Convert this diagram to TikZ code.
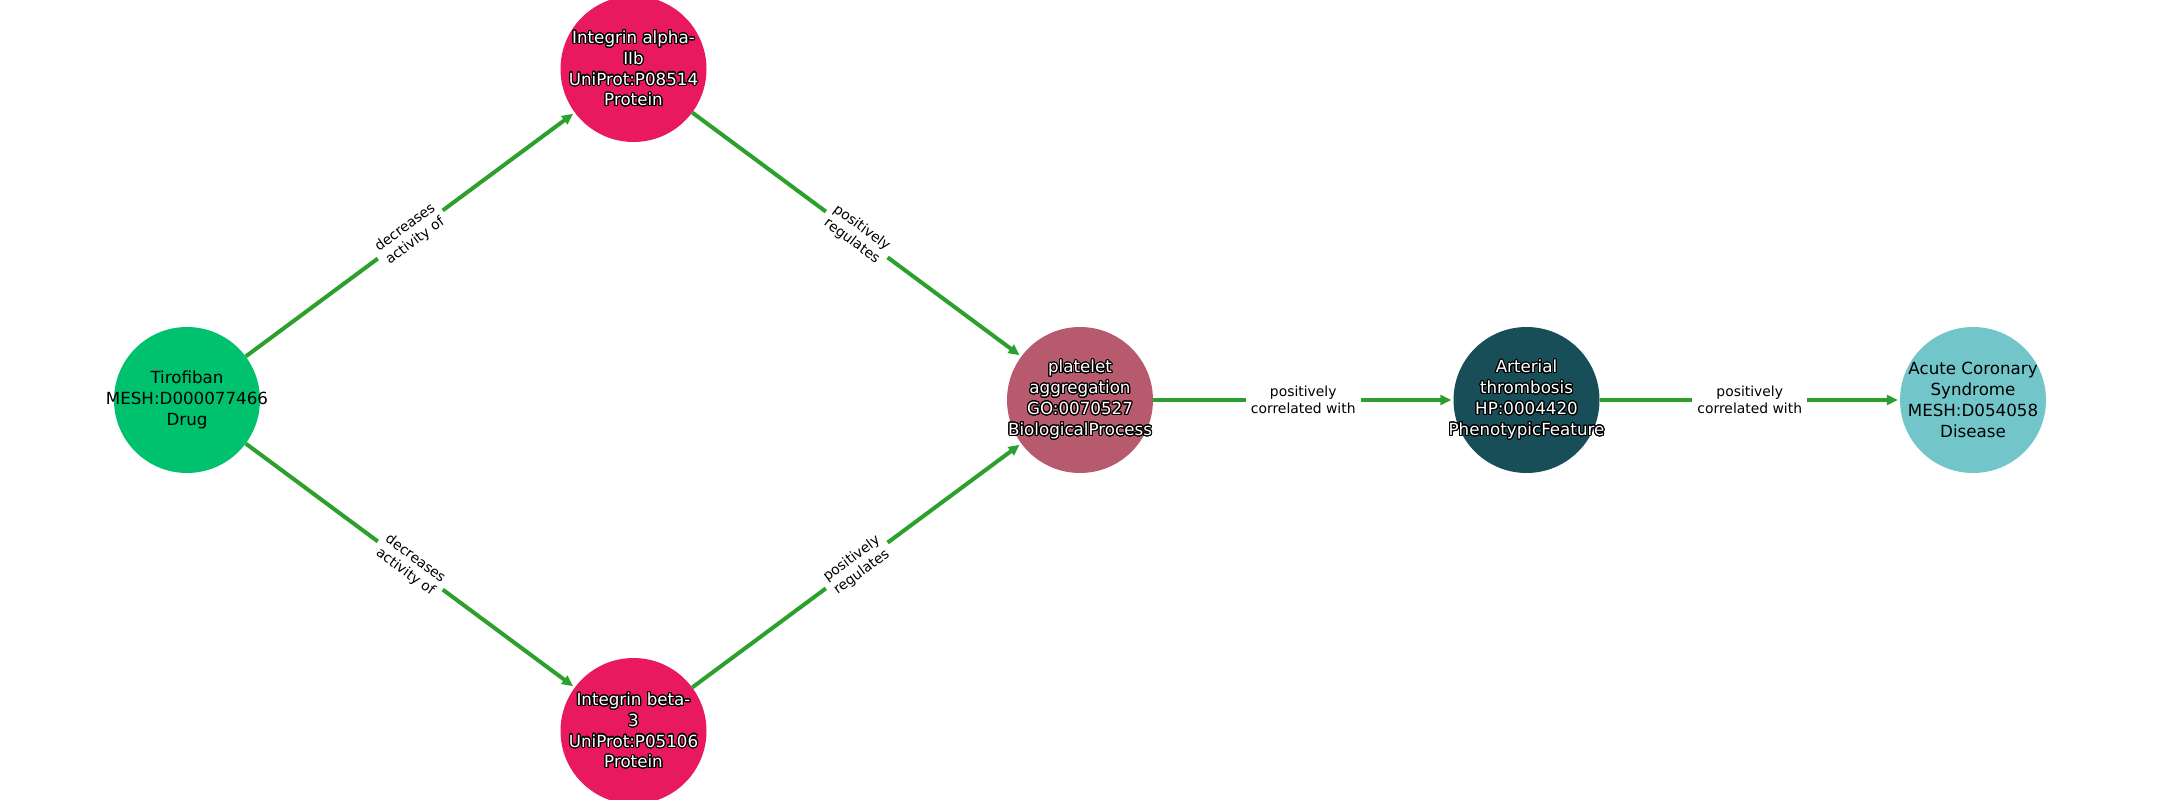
\documentclass[tikz,border=0pt]{standalone}
\usepackage{fontspec}
\setmainfont{DejaVu Sans}
\usepackage[copies]{contour}
\contourlength{1.1pt}
\contournumber{24}
\usetikzlibrary{arrows.meta}
\definecolor{cdrug}{HTML}{00C16E}
\definecolor{cprot}{HTML}{E8195F}
\definecolor{cproc}{HTML}{B85A6E}
\definecolor{cpheno}{HTML}{174E57}
\definecolor{cdis}{HTML}{72C6CA}
\definecolor{cedge}{HTML}{2CA02C}
\newcommand{\olt}[1]{\contour{black}{#1}}
\tikzset{
  ent/.style={circle, minimum size=146pt, inner sep=0pt, draw=none},
  enttext/.style={inner sep=0pt, align=center, font=\fontsize{16.7}{20.8}\selectfont},
  darktxt/.style={enttext, text=black},
  lighttxt/.style={enttext, text=white},
  rel/.style={draw=cedge, line width=4pt, -{Triangle[length=11pt,width=10pt]}, shorten >=2pt},
  rellabel/.style={fill=white, inner xsep=5pt, inner ysep=2pt, align=center, text=black,
    font=\fontsize{13.9}{16.7}\selectfont},
}
\begin{document}
\begin{tikzpicture}[x=1pt,y=-1pt]
\useasboundingbox (0,0) rectangle (2160,800);
\node[ent, fill=cdrug] (tiro) at (187,400) {};
\node[ent, fill=cprot] (itga) at (633.5,69) {};
\node[ent, fill=cprot] (itgb) at (633.5,731) {};
\node[ent, fill=cproc] (plat) at (1080,400) {};
\node[ent, fill=cpheno] (arth) at (1526.5,400) {};
\node[ent, fill=cdis] (acs) at (1973,400) {};

\draw[rel] (tiro) -- node[rellabel, sloped] (l1) {decreases\\activity of} (itga);
\draw[rel] (tiro) -- node[rellabel, sloped] (l2) {decreases\\activity of} (itgb);
\draw[rel] (itga) -- node[rellabel, sloped] (l3) {positively\\regulates} (plat);
\draw[rel] (itgb) -- node[rellabel, sloped] (l4) {positively\\regulates} (plat);
\draw[rel] (plat) -- node[rellabel] (l5) {positively\\correlated with} (arth);
\draw[rel] (arth) -- node[rellabel] (l6) {positively\\correlated with} (acs);

\node[darktxt] (tiro-t) at (tiro.center) {Tirofiban\\MESH:D000077466\\Drug};
\node[lighttxt] (itga-t) at (itga.center) {\olt{Integrin alpha-}\\\olt{IIb}\\\olt{UniProt:P08514}\\\olt{Protein}};
\node[lighttxt] (itgb-t) at (itgb.center) {\olt{Integrin beta-}\\\olt{3}\\\olt{UniProt:P05106}\\\olt{Protein}};
\node[lighttxt] (plat-t) at (plat.center) {\olt{platelet}\\\olt{aggregation}\\\olt{GO:0070527}\\\olt{BiologicalProcess}};
\node[lighttxt] (arth-t) at (arth.center) {\olt{Arterial}\\\olt{thrombosis}\\\olt{HP:0004420}\\\olt{PhenotypicFeature}};
\node[darktxt] (acs-t) at (acs.center) {Acute Coronary\\Syndrome\\MESH:D054058\\Disease};
\end{tikzpicture}
\end{document}
